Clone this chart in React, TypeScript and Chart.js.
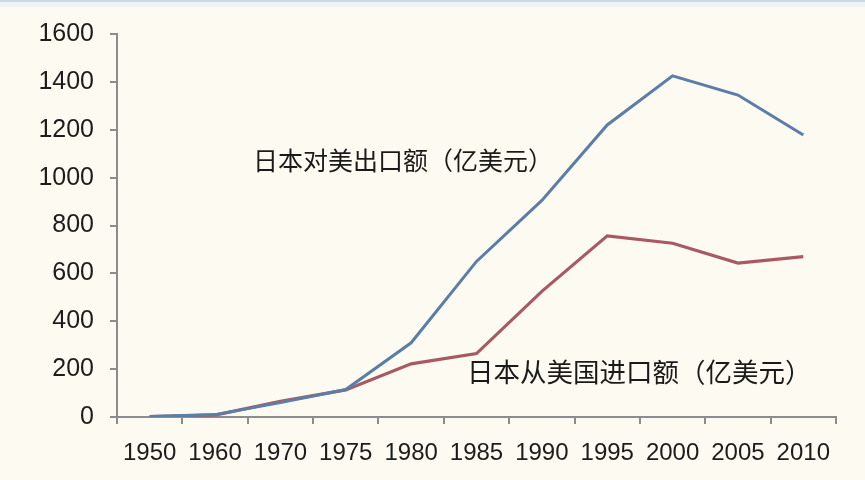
import React, { useEffect, useRef } from "react";
import { Chart, registerables } from "chart.js";

Chart.register(...registerables);

const years = ["1950", "1960", "1970", "1975", "1980", "1985", "1990", "1995", "2000", "2005", "2010"];
const exportToUS = [2, 10, 60, 115, 310, 650, 905, 1220, 1425, 1345, 1178];
const importFromUS = [2, 8, 65, 113, 222, 265, 525, 757, 726, 643, 670];
const yTicks = [0, 200, 400, 600, 800, 1000, 1200, 1400, 1600];
const exportLabel = "日本对美出口额（亿美元）";
const importLabel = "日本从美国进口额（亿美元）";

const CJK = '"Noto Sans CJK SC", "Noto Sans", sans-serif';
const NUM = '"Liberation Sans", Arial, sans-serif';

export default function App() {
  const ref = useRef<HTMLCanvasElement | null>(null);

  useEffect(() => {
    document.body.style.margin = "0";
    const canvas = ref.current;
    if (!canvas) return;

    const textPlugin = {
      id: "annotText",
      afterDatasetsDraw(chart: any) {
        const ctx = chart.ctx;
        ctx.save();
        ctx.fillStyle = "#1a1a1a";
        ctx.textBaseline = "middle";
        ctx.textAlign = "left";
        ctx.font = `25px ${CJK}`;
        ctx.fillText(exportLabel, 253, 160);
        ctx.font = `26.5px ${CJK}`;
        ctx.fillText(importLabel, 467, 372);
        ctx.restore();
      },
    };

    const bgPlugin = {
      id: "bg",
      beforeDraw(chart: any) {
        const ctx = chart.ctx;
        ctx.save();
        ctx.fillStyle = "#fcfaf1";
        ctx.fillRect(0, 0, chart.width, chart.height);
        ctx.fillStyle = "#c9d8e6";
        ctx.fillRect(0, 0, chart.width, 2);
        ctx.fillStyle = "#eef4f3";
        ctx.fillRect(0, 2, chart.width, 5);
        ctx.restore();
      },
    };

    const chart = new Chart(canvas, {
      type: "line",
      data: {
        labels: years,
        datasets: [
          {
            label: exportLabel,
            data: exportToUS,
            borderColor: "#5a7ea8",
            borderWidth: 3,
            pointRadius: 0,
            tension: 0,
          },
          {
            label: importLabel,
            data: importFromUS,
            borderColor: "#a85a64",
            borderWidth: 3.2,
            pointRadius: 0,
            tension: 0,
          },
        ],
      },
      options: {
        animation: false,
        responsive: false,
        maintainAspectRatio: false,
        layout: { padding: { top: 34, right: 29, left: 0, bottom: 0 } },
        plugins: {
          legend: { display: false },
          tooltip: { enabled: false },
          title: { display: false },
        },
        scales: {
          x: {
            type: "category",
            offset: true,
            grid: {
              display: true,
              offset: true,
              drawOnChartArea: false,
              drawTicks: true,
              tickLength: 7,
              color: "#8c8c8c",
              lineWidth: 2,
            },
            border: { display: true, color: "#8c8c8c", width: 2 },
            ticks: {
              color: "#1c1c1c",
              font: { family: NUM, size: 24 },
              padding: 15,
              maxRotation: 0,
              autoSkip: false,
            },
            afterFit(scale: any) {
              scale.height = 63;
            },
          },
          y: {
            min: 0,
            max: 1600,
            afterBuildTicks(scale: any) {
              scale.ticks = yTicks.map((v) => ({ value: v }));
            },
            grid: {
              display: true,
              drawOnChartArea: false,
              drawTicks: true,
              tickLength: 7,
              color: "#8c8c8c",
              lineWidth: 2,
            },
            border: { display: true, color: "#8c8c8c", width: 2 },
            ticks: {
              color: "#1c1c1c",
              font: { family: NUM, size: 25 },
              padding: 16,
              callback: (v: any) => String(v),
            },
            afterFit(scale: any) {
              scale.width = 117;
            },
          },
        },
      },
      plugins: [bgPlugin, textPlugin],
    });

    return () => chart.destroy();
  }, []);

  return (
    <div style={{ width: 865, height: 480, background: "#fcfaf1" }}>
      <canvas ref={ref} width={865} height={480} style={{ display: "block", width: 865, height: 480 }} />
    </div>
  );
}
